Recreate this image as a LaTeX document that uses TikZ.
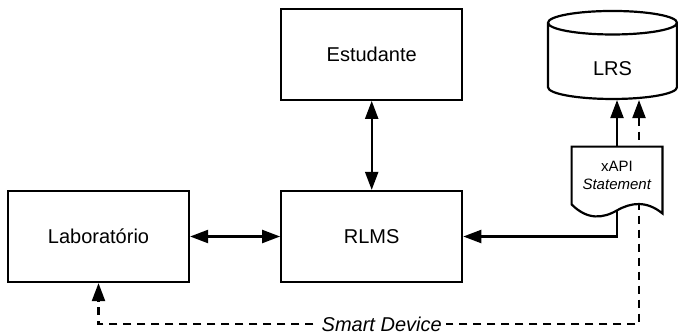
\documentclass[tikz,border=0pt]{standalone}
\usepackage{fontspec}
\setmainfont{Liberation Sans}
\usepackage{tikz}
\usetikzlibrary{shapes.geometric, arrows.meta, positioning, calc, backgrounds}
\tikzset{
  block/.style={
    rectangle,
    draw=black, line width=1.1pt, fill=white,
    minimum width=90.5pt, minimum height=45.5pt,
    align=center, font=\normalsize
  },
  storenode/.style={
    cylinder, shape border rotate=90, aspect=0.45,
    draw=black, line width=1.1pt, fill=white,
    minimum width=64.5pt, minimum height=44pt,
    text height=11pt, text depth=0pt,
    font=\normalsize
  },
  docnode/.style={
    rectangle, inner sep=1pt,
    minimum width=45pt, minimum height=28.5pt,
    align=center, font=\fontsize{7.5}{9}\selectfont
  },
  arrow/.style={
    -{Triangle[length=9pt,width=6.5pt]},
    line width=1.1pt
  },
  dblarrow/.style={
    {Triangle[length=9pt,width=6.5pt]}-{Triangle[length=9pt,width=6.5pt]},
    line width=1.1pt
  },
  dasharrow/.style={
    dblarrow, dash pattern=on 4pt off 3pt
  }
}

\begin{document}
\begin{tikzpicture}[x=0.5pt, y=-0.5pt]
  \useasboundingbox (0,0) rectangle (678,332);

  \node[block] (lab) at (98.5,236.5) {Laboratório};
  \node[block, right=45pt of lab] (rlms) {RLMS};
  \node[block, above=44.5pt of rlms] (est) {Estudante};

  \node[storenode] (lrs) at (612.5,64) {LRS};
  \node[docnode] (doc) at (617,175.5) {xAPI\\\textit{Statement}};

  \coordinate (sd) at (639,324);

  \draw[dblarrow] (lab) -- (rlms);
  \draw[dblarrow] (est) -- (rlms);
  \draw[arrow] (doc.north) -- (doc.north |- lrs.south);
  \draw[arrow] ($(doc.south)+(0,6)$) |- (rlms.east);

  \begin{scope}[on background layer]
    \draw[dasharrow] (sd |- lrs.south) -- (sd) -|
      node[pos=0.238, fill=white, inner sep=2pt, font=\itshape] {Smart Device}
      (lab.south);
    % document outline with wavy bottom
    \draw[line width=1.1pt, fill=white] (doc.south west)
      .. controls +(16,16) and +(-14,8) .. ($(doc.south)+(0,6)$)
      .. controls +(14,-8) and +(-16,-13) .. ($(doc.south east)+(0,9)$)
      -- (doc.north east) -- (doc.north west) -- cycle;
  \end{scope}

\end{tikzpicture}
\end{document}
